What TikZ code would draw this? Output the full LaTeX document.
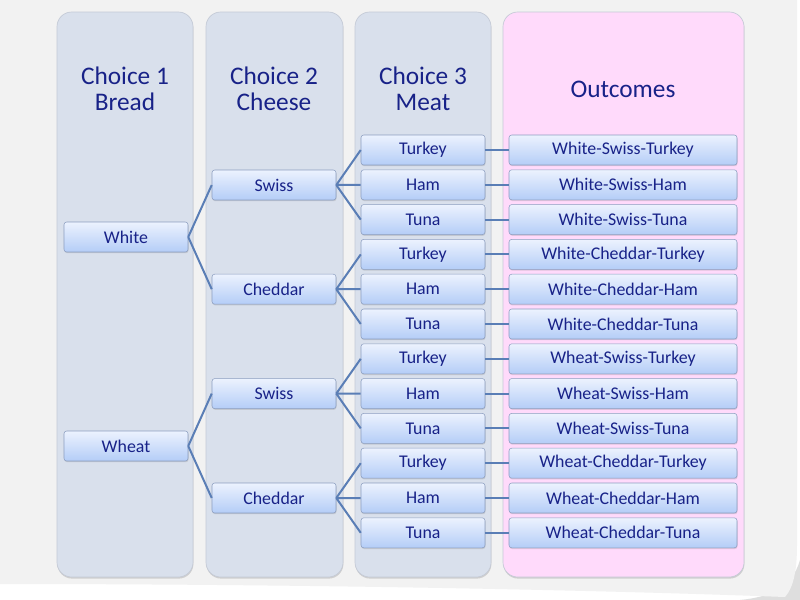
\documentclass[tikz,border=0pt]{standalone}
\usepackage{fontspec}
\setmainfont{Carlito}
\usepackage{tikz}
\usetikzlibrary{shadows}
\definecolor{sheetgray}{RGB}{242,242,242}
\definecolor{curlgray}{RGB}{222,222,222}
\definecolor{colblue}{RGB}{217,224,236}
\definecolor{colpink}{RGB}{255,218,251}
\definecolor{colrim}{RGB}{196,202,214}
\definecolor{boxtop}{RGB}{236,242,254}
\definecolor{boxbottom}{RGB}{180,205,247}
\definecolor{boxrim}{RGB}{140,158,192}
\definecolor{inkblue}{RGB}{24,34,136}
\definecolor{linkblue}{RGB}{90,126,182}

\begin{document}
\begin{tikzpicture}[x=0.75pt, y=-0.75pt,
                col/.style={rounded corners=11pt, draw=colrim, line width=0.5pt, drop shadow={opacity=0.3, shadow xshift=0.3pt, shadow yshift=-1.2pt}},
                head/.style={text=inkblue, align=center, font=\fontsize{19}{19.5}\selectfont},
                item/.style={draw=boxrim, line width=0.4pt, rounded corners=2pt, top color=boxtop, bottom color=boxbottom, text=inkblue, font=\fontsize{13.4}{14}\selectfont, minimum width=93pt, minimum height=22.5pt, inner sep=0pt, drop shadow={opacity=0.25, shadow xshift=0.4pt, shadow yshift=-0.9pt}},
                wide/.style={item, minimum width=171pt},
                link/.style={draw=linkblue, line width=1.5pt}]
                \useasboundingbox (0,0) rectangle (800,600);
                \fill[white] (0,0) rectangle (800,600);
                \fill[curlgray] (740,600) .. controls (770,597) and (792,588) .. (800,560) -- (800,600) -- cycle;
                \fill[sheetgray] (0,0) -- (797,0) -- (797,545) .. controls (797,572) and (793,588) .. (785,597) .. controls (600,590) and (300,584) .. (0,584) -- cycle;
                \path[col, fill=colblue] (57,12) rectangle (193,577);
                \path[col, fill=colblue] (206,12) rectangle (343,577);
                \path[col, fill=colblue] (355,12) rectangle (491,577);
                \path[col, fill=colpink] (503,12) rectangle (744,577);
                \node[head] (H_1) at (125,89) {Choice 1\\Bread};
                \node[head] (H_2) at (274,89) {Choice 2\\Cheese};
                \node[head] (H_3) at (423,89) {Choice 3\\Meat};
                \node[head] (H_4) at (623,89) {Outcomes};
                \node[item] (White) at (126,237) {White};
                \node[item] (Wheat) at (126,446) {Wheat};
                \node[item] (S_1) at (274,185) {Swiss};
                \node[item] (C_1) at (274,289.2) {Cheddar};
                \node[item] (S_2) at (274,393.6) {Swiss};
                \node[item] (C_2) at (274,498) {Cheddar};
                \node[item] (T_1) at (423,150) {Turkey};
                \node[item] (M_1) at (423,184.8) {Ham};
                \node[item] (U_1) at (423,219.6) {Tuna};
                \node[item] (T_2) at (423,254.4) {Turkey};
                \node[item] (M_2) at (423,289.2) {Ham};
                \node[item] (U_2) at (423,324) {Tuna};
                \node[item] (T_3) at (423,358.8) {Turkey};
                \node[item] (M_3) at (423,393.6) {Ham};
                \node[item] (U_3) at (423,428.4) {Tuna};
                \node[item] (T_4) at (423,463.2) {Turkey};
                \node[item] (M_4) at (423,498) {Ham};
                \node[item] (U_4) at (423,532.8) {Tuna};
                \node[wide] (O_1) at (623,150) {White-Swiss-Turkey};
                \node[wide] (O_2) at (623,184.8) {White-Swiss-Ham};
                \node[wide] (O_3) at (623,219.6) {White-Swiss-Tuna};
                \node[wide] (O_4) at (623,254.4) {White-Cheddar-Turkey};
                \node[wide] (O_5) at (623,289.2) {White-Cheddar-Ham};
                \node[wide] (O_6) at (623,324) {White-Cheddar-Tuna};
                \node[wide] (O_7) at (623,358.8) {Wheat-Swiss-Turkey};
                \node[wide] (O_8) at (623,393.6) {Wheat-Swiss-Ham};
                \node[wide] (O_9) at (623,428.4) {Wheat-Swiss-Tuna};
                \node[wide] (O_10) at (623,463.2) {Wheat-Cheddar-Turkey};
                \node[wide] (O_11) at (623,498) {Wheat-Cheddar-Ham};
                \node[wide] (O_12) at (623,532.8) {Wheat-Cheddar-Tuna};
                \draw[link] (White.east) -- (S_1.west) (White.east) -- (C_1.west);
                \draw[link] (Wheat.east) -- (S_2.west) (Wheat.east) -- (C_2.west);
                \draw[link] (S_1.east) -- (T_1.west) (S_1.east) -- (M_1.west) (S_1.east) -- (U_1.west);
                \draw[link] (C_1.east) -- (T_2.west) (C_1.east) -- (M_2.west) (C_1.east) -- (U_2.west);
                \draw[link] (S_2.east) -- (T_3.west) (S_2.east) -- (M_3.west) (S_2.east) -- (U_3.west);
                \draw[link] (C_2.east) -- (T_4.west) (C_2.east) -- (M_4.west) (C_2.east) -- (U_4.west);
                \draw[link] (T_1.east) -- (O_1.west) (M_1.east) -- (O_2.west) (U_1.east) -- (O_3.west);
                \draw[link] (T_2.east) -- (O_4.west) (M_2.east) -- (O_5.west) (U_2.east) -- (O_6.west);
                \draw[link] (T_3.east) -- (O_7.west) (M_3.east) -- (O_8.west) (U_3.east) -- (O_9.west);
                \draw[link] (T_4.east) -- (O_10.west) (M_4.east) -- (O_11.west) (U_4.east) -- (O_12.west);
            \end{tikzpicture}
\end{document}
